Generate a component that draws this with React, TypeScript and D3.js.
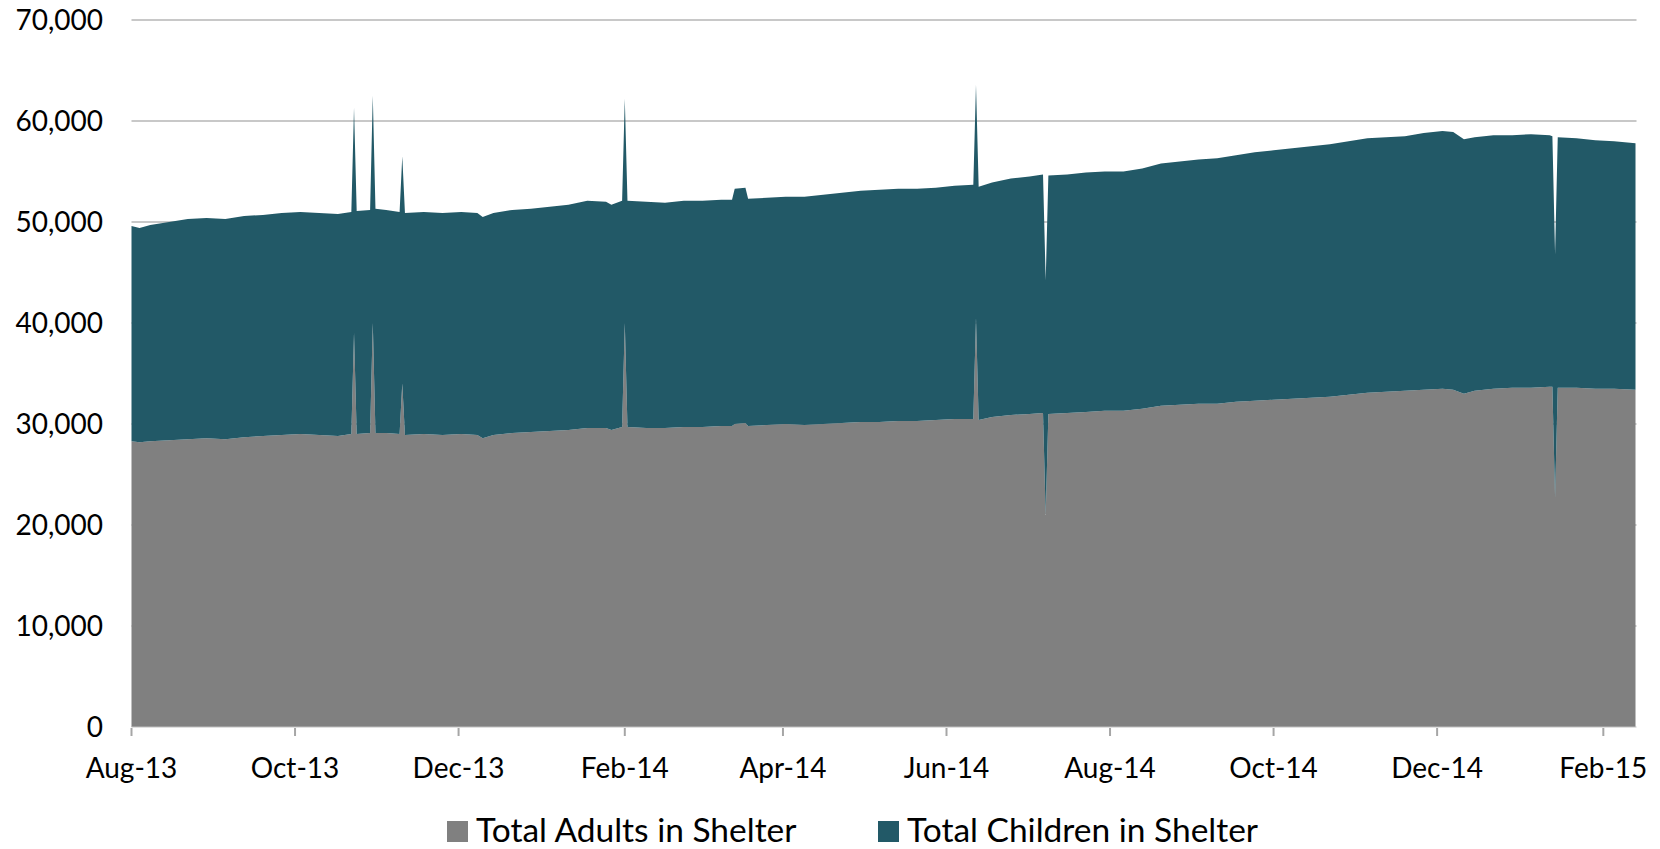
import React from "react";
import * as d3 from "d3";

const dates: string[] = [
  "2013-08-01","2013-08-04","2013-08-08","2013-08-15","2013-08-22","2013-08-29","2013-09-05","2013-09-12","2013-09-19","2013-09-26",
  "2013-10-03","2013-10-10","2013-10-17","2013-10-22","2013-10-23","2013-10-24","2013-10-29","2013-10-30","2013-10-31","2013-11-04",
  "2013-11-09","2013-11-10","2013-11-11","2013-11-18","2013-11-25","2013-12-02","2013-12-08","2013-12-10","2013-12-14","2013-12-21",
  "2013-12-28","2014-01-04","2014-01-11","2014-01-18","2014-01-25","2014-01-27","2014-01-31","2014-02-01","2014-02-02","2014-02-09",
  "2014-02-16","2014-02-23","2014-03-02","2014-03-09","2014-03-13","2014-03-14","2014-03-18","2014-03-19","2014-03-26","2014-04-02",
  "2014-04-09","2014-04-16","2014-04-23","2014-04-30","2014-05-07","2014-05-14","2014-05-21","2014-05-28","2014-06-04","2014-06-11",
  "2014-06-12","2014-06-13","2014-06-18","2014-06-25","2014-07-02","2014-07-07","2014-07-08","2014-07-09","2014-07-16","2014-07-23",
  "2014-07-30","2014-08-06","2014-08-13","2014-08-20","2014-08-27","2014-09-03","2014-09-10","2014-09-17","2014-09-24","2014-10-01",
  "2014-10-08","2014-10-15","2014-10-22","2014-10-29","2014-11-05","2014-11-12","2014-11-19","2014-11-26","2014-12-03","2014-12-07",
  "2014-12-11","2014-12-15","2014-12-22","2014-12-29","2015-01-05","2015-01-12","2015-01-13","2015-01-14","2015-01-15","2015-01-22",
  "2015-01-29","2015-02-05","2015-02-13",
];

const adults: number[] = [
  28300,28200,28300,28400,28500,28600,28500,28700,28800,28900,
  29000,28900,28800,29000,39000,29000,29100,40000,29100,29100,
  29000,34000,28900,29000,28900,29000,28900,28600,28900,29100,
  29200,29300,29400,29600,29600,29400,29700,40000,29700,29600,
  29600,29700,29700,29800,29800,30000,30100,29800,29900,30000,
  29900,30000,30100,30200,30200,30300,30300,30400,30500,30500,
  40500,30400,30700,30900,31000,31100,21000,31000,31100,31200,
  31300,31300,31500,31800,31900,32000,32000,32200,32300,32400,
  32500,32600,32700,32900,33100,33200,33300,33400,33500,33400,
  33000,33300,33500,33600,33600,33700,33700,22700,33600,33600,
  33500,33500,33400,
];

const children: number[] = [
  21300,21200,21400,21600,21800,21800,21800,21900,21900,22000,
  22000,22000,22000,22000,22300,22100,22100,22500,22200,22100,
  22000,22500,22000,22000,22000,22000,22000,21900,22000,22100,
  22100,22200,22300,22500,22400,22300,22400,22200,22400,22400,
  22300,22400,22400,22400,22400,23300,23300,22500,22500,22500,
  22600,22700,22800,22900,23000,23000,23000,23000,23100,23200,
  23100,23100,23200,23400,23500,23600,23200,23600,23600,23700,
  23700,23700,23800,24000,24100,24200,24300,24400,24600,24700,
  24800,24900,25000,25100,25200,25200,25200,25400,25500,25500,
  25200,25100,25100,25000,25100,24900,24800,24100,24800,24700,
  24600,24500,24400,
];

const yTicks: number[] = [0, 10000, 20000, 30000, 40000, 50000, 60000, 70000];
const xTickDates: string[] = [
  "2013-08-01","2013-10-01","2013-12-01","2014-02-01","2014-04-01",
  "2014-06-01","2014-08-01","2014-10-01","2014-12-01","2015-02-01",
];
const seriesNames: string[] = ["Total Adults in Shelter", "Total Children in Shelter"];
const seriesColors: string[] = ["#808080", "#225967"];

const W = 1660;
const H = 849;
const FONT = "Lato, 'Open Sans', sans-serif";
const LEFT = 131.5;
const RIGHT = 1635.5;
const BOTTOM = 727;
const TOP = 20;

export default function App() {
  const parse = d3.utcParse("%Y-%m-%d");
  const rows = dates.map((d, i) => ({ date: parse(d) as Date, adults: adults[i], children: children[i] }));

  const x = d3.scaleUtc()
    .domain([parse(dates[0]) as Date, parse(dates[dates.length - 1]) as Date])
    .range([LEFT, RIGHT]);
  const y = d3.scaleLinear().domain([0, 70000]).range([BOTTOM, TOP]);

  const stack = d3.stack<any>().keys(["adults", "children"]);
  const layers = stack(rows);
  const area = d3.area<any>()
    .x((d: any) => x(d.data.date))
    .y0((d: any) => y(d[0]))
    .y1((d: any) => y(d[1]));

  const fmtY = d3.format(",");
  const fmtX = d3.utcFormat("%b-%y");

  return (
    <svg width={W} height={H} style={{ position: "absolute", left: 0, top: 0, background: "#fff" }}>
      {yTicks.map((t) => (
        <g key={t}>
          {t > 0 && (
            <line x1={LEFT} x2={RIGHT + 1} y1={y(t)} y2={y(t)} stroke="#c8c8c8" strokeWidth={2} />
          )}
          <text x={103} y={y(t)} dy="0.36em" textAnchor="end" fontFamily={FONT} fontSize={28} fill="#000">
            {fmtY(t)}
          </text>
        </g>
      ))}
      {layers.map((layer, i) => (
        <path key={i} d={area(layer as any) || ""} fill={seriesColors[i]} />
      ))}
      <line x1={LEFT} x2={RIGHT + 1} y1={BOTTOM} y2={BOTTOM} stroke="#bfbfbf" strokeWidth={1} />
      {xTickDates.map((d) => {
        const xx = x(parse(d) as Date);
        return (
          <g key={d}>
            <line x1={xx} x2={xx} y1={BOTTOM + 1} y2={BOTTOM + 9} stroke="#a6a6a6" strokeWidth={2} />
            <text x={xx} y={778} textAnchor="middle" fontFamily={FONT} fontSize={28} fill="#000">
              {fmtX(parse(d) as Date)}
            </text>
          </g>
        );
      })}
      {seriesNames.map((name, i) => {
        const lx = [447, 878][i];
        return (
          <g key={name}>
            <rect x={lx} y={821} width={21} height={21} fill={seriesColors[i]} />
            <text x={lx + 29} y={842} fontFamily={FONT} fontSize={33.5} fill="#000">{name}</text>
          </g>
        );
      })}
    </svg>
  );
}
